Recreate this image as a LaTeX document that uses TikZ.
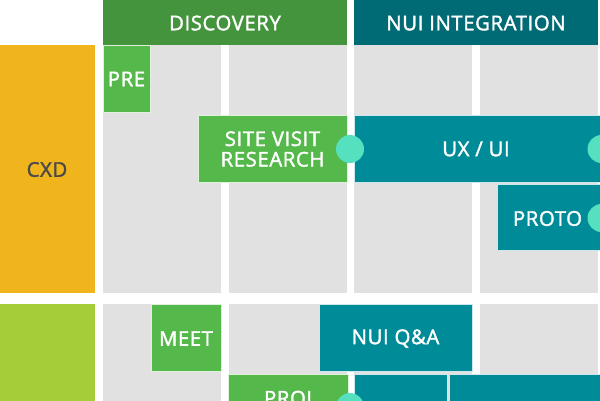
\documentclass[tikz,border=0pt]{standalone}
\usepackage{fontspec}
\setmainfont{Open Sans}
\newfontfamily\labelfont{Open Sans}[FakeBold=1.8, LetterSpace=3]
\definecolor{cxdorange}{HTML}{F0B41C}
\definecolor{limegreen}{HTML}{A5CD39}
\definecolor{hdrgreen}{HTML}{43943C}
\definecolor{taskgreen}{HTML}{55B84A}
\definecolor{hdrteal}{HTML}{006B75}
\definecolor{taskteal}{HTML}{008B98}
\definecolor{mint}{HTML}{55E0C0}
\definecolor{cellgray}{HTML}{E1E1E1}
\definecolor{labelgray}{HTML}{4A4A4A}
\begin{document}
\begin{tikzpicture}[x=1pt,y=-1pt,
  lbl/.style={font=\labelfont\fontsize{20.3}{20.5}\selectfont, text=white, align=center, inner sep=0pt},
  cell/.style={fill=cellgray},
  greenbox/.style={fill=taskgreen, draw=white!80!taskgreen, line width=0.5pt},
  tealbox/.style={fill=taskteal, draw=white!80!taskteal, line width=0.5pt},
  dot/.style={circle, fill=mint, minimum size=28pt, inner sep=0pt}]
\useasboundingbox (0,0) rectangle (600,400);
\clip (0,0) rectangle (600,400);

% lane labels
\fill[cxdorange] (0,45) rectangle (94.5,292.5);
\node[lbl, text=labelgray] (cxd) at (47,169.5) {CXD};
\fill[limegreen] (0,304.3) rectangle (94.5,410);

% phase headers
\fill[hdrgreen] (103,0) rectangle (347,45);
\node[lbl] (discovery) at (225,23) {DISCOVERY};
\fill[hdrteal] (354,0) rectangle (598,45);
\node[lbl] (nui) at (476,23) {NUI INTEGRATION};

% grid of gray cells
\foreach \xa/\xb in {103/221, 229/347, 354/472, 480/598} {
  \fill[cell] (\xa,45) rectangle (\xb,292.5);
  \fill[cell] (\xa,304.3) rectangle (\xb,410);
}

% CXD lane tasks
\draw[greenbox] (103,45) rectangle (150,112);
\node[lbl] (pre) at (126.5,79) {PRE};
\draw[greenbox] (198,115) rectangle (347.5,182.3);
\node[lbl] (site) at (272.5,149) {SITE VISIT\\RESEARCH};
\draw[tealbox] (354,115) rectangle (600,182.3);
\node[lbl] (uxui) at (476,149) {UX / UI};
\draw[tealbox] (497,184.3) rectangle (600,250.7);
\node[lbl] (proto) at (547.5,218.5) {PROTO};
\node[dot] (d1) at (350,149) {};
\node[dot] (d2) at (601.5,149) {};
\node[dot] (d3) at (601.5,218) {};

% second lane tasks
\draw[greenbox] (151,304.3) rectangle (221,371.7);
\node[lbl] (meet) at (186,338.5) {MEET};
\draw[tealbox] (319,304.3) rectangle (472.3,371.7);
\node[lbl] (qa) at (395.5,338.5) {NUI Q\&A};
\draw[greenbox] (228.3,374) rectangle (348,420);
\node[lbl, anchor=base] (proj) at (288,405.5) {PROJ};
\draw[tealbox] (354.3,374) rectangle (447.3,420);
\draw[tealbox] (449.3,374) rectangle (600,420);
\node[dot] (d4) at (350,407) {};
\end{tikzpicture}
\end{document}
